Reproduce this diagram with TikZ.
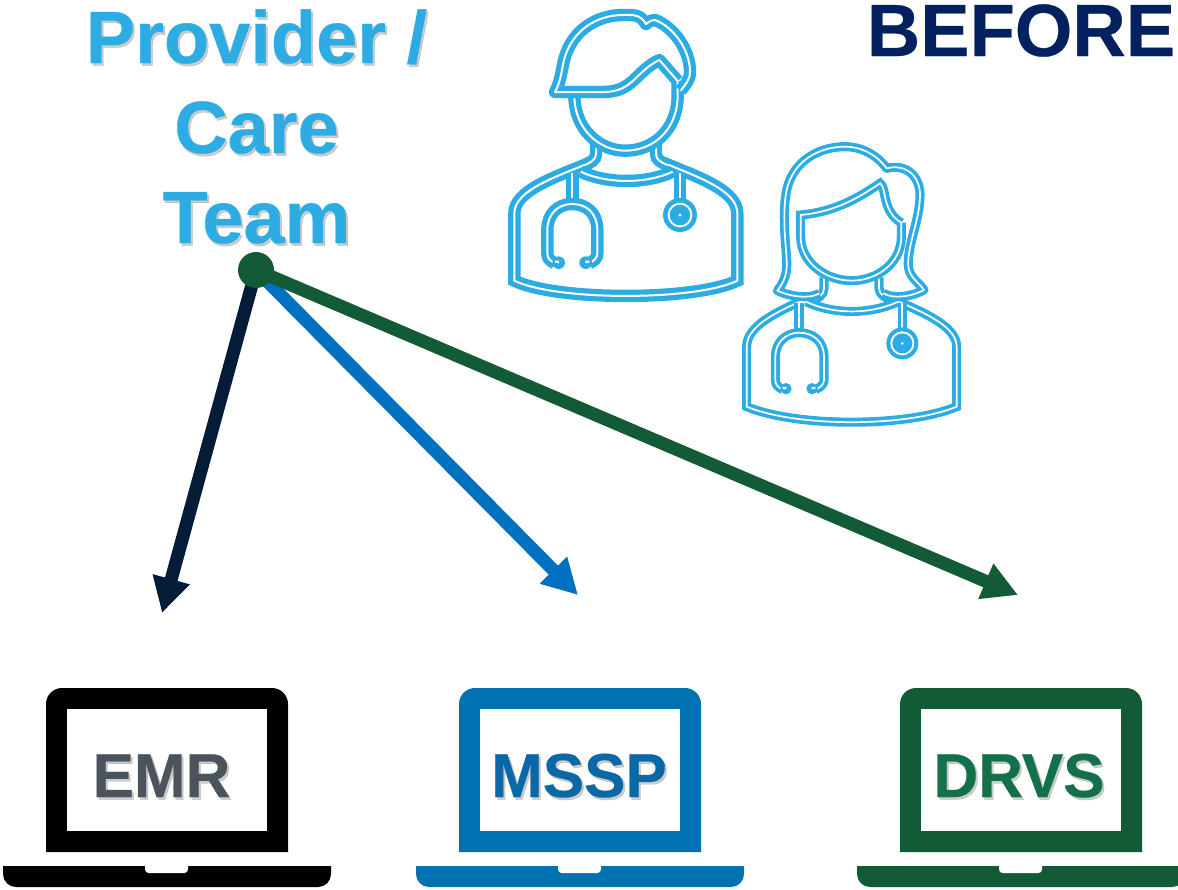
\documentclass[tikz,border=0pt]{standalone}
\usepackage{fontspec}
\setmainfont{Liberation Sans}[BoldFeatures={FakeBold=0.4}]
\usetikzlibrary{arrows.meta,backgrounds}
\definecolor{sky}{HTML}{2CACE3}
\definecolor{navy}{HTML}{02215E}
\definecolor{ink}{HTML}{051C38}
\definecolor{bluearrow}{HTML}{0070C0}
\definecolor{forest}{HTML}{125B36}
\definecolor{lapblue}{HTML}{0172B1}
\definecolor{emrtxt}{HTML}{4B535C}
\definecolor{mssptxt}{HTML}{0B68A6}
\definecolor{drvstxt}{HTML}{14704A}
\tikzset{
  lbl/.style={font=\bfseries\fontsize{37}{37}\selectfont,text=sky,anchor=base,inner sep=0pt},
  lap/.style={font=\bfseries\fontsize{31}{31}\selectfont,anchor=base,inner sep=0pt},
  shade/.style={text=black,text opacity=0.2},
  manline/.style={draw=sky,line width=2.6pt,double=white,double distance=1pt,line join=miter},
  womanline/.style={draw=sky,line width=1.85pt,double=white,double distance=0.85pt,line join=miter},
  arrowline/.style={line width=6.5pt,-{Triangle[length=17.5pt,width=18pt]}}
}
\newcommand{\laptop}[2]{%
  \begin{scope}[shift={(#1,0)}]
    \fill[#2] (46,852) [rounded corners=8pt] -- (46,688) -- (288,688) [sharp corners] -- (288,852) -- cycle;
    \fill[white] (67,709) rectangle (267,831);
    \fill[#2] (3,866) [rounded corners=0pt] -- (3,866) [rounded corners=6.5pt] -- (3,887) -- (331,887) [sharp corners] -- (331,866) -- cycle;
    \fill[white] (145,865) [rounded corners=0pt] -- (145,865) [rounded corners=1.8pt] -- (145,873) -- (188,873) [sharp corners] -- (188,865) -- cycle;
  \end{scope}}
\begin{document}
\begin{tikzpicture}[x=0.5pt,y=-0.5pt]
\useasboundingbox (0,0) rectangle (1178,889);
\clip (0,0) rectangle (1178,889);
% text
\foreach \n/\t/\yy in {a/{Provider /}/63,b/{Care}/153,c/{Team}/243}{
  \node[lbl,shade,name=s\n] at (258.5,\yy+2.5) {\t};
  \node[lbl,name=t\n] at (256.5,\yy) {\t};
}
\node[lbl,text=navy,name=before] at (1021,56) {BEFORE};
% central dot and arrows
\node[circle,fill=forest,inner sep=0pt,minimum size=18pt,name=dot] at (256,270) {};
\coordinate (emrtip) at (162,613);
\coordinate (mssptip) at (578,595);
\coordinate (drvstip) at (1018,595);
\begin{pgfonlayer}{background}
\draw[arrowline,draw=ink,fill=ink] (dot.center) -- (emrtip);
\draw[arrowline,draw=bluearrow,fill=bluearrow] (dot.center) -- (mssptip);
\draw[arrowline,draw=forest,fill=forest] (dot.center) -- (drvstip);
\end{pgfonlayer}
% laptops
\laptop{0}{black}
\laptop{413}{lapblue}
\laptop{854}{forest}
\node[lap,shade,name=s1] at (163.5,799.5) {EMR};
\node[lap,text=emrtxt,name=t1] at (161.5,797) {EMR};
\node[lap,shade,name=s2] at (581,799.5) {MSSP};
\node[lap,text=mssptxt,name=t2] at (579,797) {MSSP};
\node[lap,shade,name=s3] at (1021,799.5) {DRVS};
\node[lap,text=drvstxt,name=t3] at (1019,797) {DRVS};
% man
\begin{scope}[shift={(245pt,0pt)},x=0.16667pt,y=-0.16667pt]
  \draw[manline] (300,488) .. controls (200,530) and (73,570) .. (73,640) -- (73,842) .. controls (200,903) and (615,903) .. (742,842) -- (742,640) .. controls (742,570) and (620,530) .. (520,488);
  \draw[manline] (318,432) -- (318,462) .. controls (318,480) and (300,488) .. (285,495);
  \draw[manline] (498,432) -- (498,462) .. controls (498,480) and (515,488) .. (532,495);
  \draw[manline] (272,515) .. controls (350,552) and (470,552) .. (548,515);
  \draw[manline] (253,285) .. controls (253,390) and (330,452) .. (405,452) .. controls (490,452) and (563,390) .. (563,285) -- (563,243);
  \draw[manline,line join=round] (345,276) -- (195,276) .. controls (215,240) and (215,200) .. (225,170) .. controls (250,90) and (320,45) .. (400,45) .. controls (430,45) and (450,42) .. (468,72) .. controls (478,65) and (485,58) .. (495,60) .. controls (550,80) and (600,150) .. (600,215) .. controls (600,240) and (585,255) .. (572,272);
  \draw[manline,line join=round] (340,276) .. controls (430,276) and (435,215) .. (508,180) -- (563,243);
  % stethoscope
  \draw[manline] (247,520) -- (247,605);
  \draw[manline] (195,790) .. controls (180,782) and (172,775) .. (172,760) -- (172,690) .. controls (172,640) and (205,612) .. (247,612) .. controls (290,612) and (322,640) .. (322,690) -- (322,760) .. controls (322,775) and (312,782) .. (297,790);
  \fill[sky] (206,788) circle[radius=19];
  \fill[sky] (287,788) circle[radius=19];
  \fill[white] (195,781) -- (208,783) -- (206,790) -- (195,788) -- cycle;
  \fill[white] (298,781) -- (285,783) -- (287,790) -- (298,788) -- cycle;
  \draw[manline] (570,520) -- (570,600);
  \fill[sky] (570,645) circle[radius=51];
  \fill[white] (570,645) circle[radius=37];
  \fill[sky] (570,645) circle[radius=31];
  \fill[white] (570,645) circle[radius=5];
\end{scope}
% woman
\begin{scope}[shift={(365pt,-70pt)},x=0.16667pt,y=-0.16667pt]
  \draw[womanline] (205,487) .. controls (120,525) and (50,565) .. (50,620) -- (50,800) .. controls (200,862) and (530,862) .. (680,800) -- (680,620) .. controls (680,565) and (600,525) .. (510,487);
  \draw[womanline] (282,412) -- (282,445) .. controls (282,465) and (265,475) .. (240,485);
  \draw[womanline] (447,412) -- (447,445) .. controls (447,465) and (470,475) .. (495,485);
  \draw[womanline] (228,485) .. controls (310,524) and (420,524) .. (505,485);
  \draw[womanline] (514,248) -- (514,290) .. controls (514,370) and (440,422) .. (365,422) .. controls (290,422) and (212,370) .. (212,290) -- (212,225) .. controls (320,215) and (390,170) .. (450,130) .. controls (470,140) and (455,215) .. (514,248);
  \draw[womanline,line join=round] (268,460) .. controls (240,478) and (180,470) .. (142,452) .. controls (175,410) and (172,380) .. (168,330) .. controls (162,260) and (160,200) .. (170,150) .. controls (190,60) and (270,20) .. (345,20) .. controls (400,20) and (445,50) .. (470,85) .. controls (530,70) and (570,110) .. (570,165) .. controls (570,240) and (530,320) .. (535,380) .. controls (540,415) and (565,425) .. (582,450) .. controls (545,470) and (490,478) .. (460,460);
  % stethoscope
  \draw[womanline] (207,490) -- (207,575);
  \draw[womanline] (158,749) .. controls (145,742) and (136,735) .. (136,720) -- (136,650) .. controls (136,605) and (170,578) .. (207,578) .. controls (250,578) and (282,605) .. (282,650) -- (282,720) .. controls (282,735) and (270,742) .. (256,749);
  \fill[sky] (168,746) circle[radius=17];
  \fill[sky] (246,746) circle[radius=17];
  \fill[white] (158,740) -- (170,742) -- (168,748) -- (158,747) -- cycle;
  \fill[white] (256,740) -- (244,742) -- (246,748) -- (256,747) -- cycle;
  \draw[womanline] (517,490) -- (517,570);
  \fill[sky] (517,610) circle[radius=48];
  \fill[white] (517,610) circle[radius=36];
  \fill[sky] (517,610) circle[radius=30];
  \fill[white] (517,610) circle[radius=4];
\end{scope}
\end{tikzpicture}
\end{document}
